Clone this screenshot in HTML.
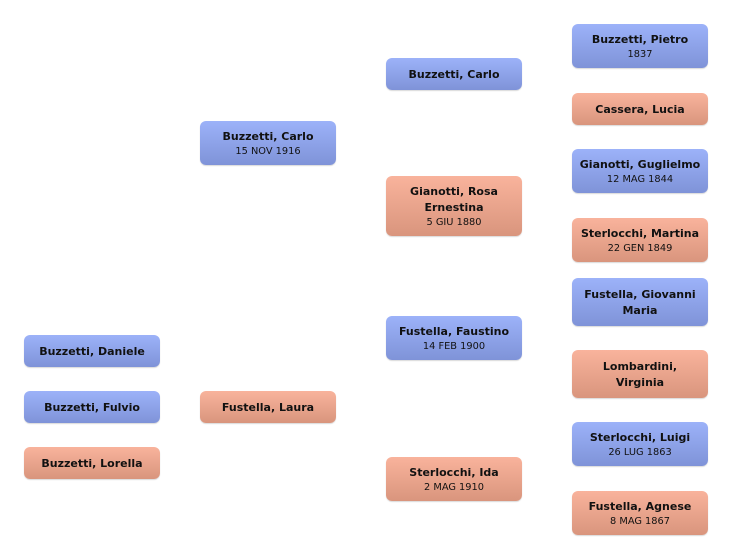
<!DOCTYPE html>
<html><head><meta charset="utf-8"><style>
body{margin:0;width:732px;height:560px;background:#fff;position:relative;overflow:hidden;font-family:"DejaVu Sans","Liberation Sans",sans-serif;}
.b{position:absolute;width:136px;border-radius:6px;display:flex;flex-direction:column;justify-content:center;align-items:center;text-align:center;color:#111;box-shadow:0 1px 1px rgba(0,0,0,.15);padding-top:1px;box-sizing:border-box;}
.m{background:linear-gradient(#9cb2f9,#7f93d8);}
.f{background:linear-gradient(#f9b39c,#d9957d);}
.n{font-weight:bold;font-size:11px;line-height:16px;}
.d{font-size:9.8px;line-height:13px;}
</style></head><body>
<div class="b m" style="left:24px;top:335px;height:32px"><div class="n">Buzzetti, Daniele</div></div>
<div class="b m" style="left:24px;top:391px;height:32px"><div class="n">Buzzetti, Fulvio</div></div>
<div class="b f" style="left:24px;top:447px;height:32px"><div class="n">Buzzetti, Lorella</div></div>

<div class="b m" style="left:200px;top:121px;height:44px"><div class="n">Buzzetti, Carlo</div><div class="d">15 NOV 1916</div></div>
<div class="b f" style="left:200px;top:391px;height:32px"><div class="n">Fustella, Laura</div></div>

<div class="b m" style="left:386px;top:58px;height:32px"><div class="n">Buzzetti, Carlo</div></div>
<div class="b f" style="left:386px;top:176px;height:60px"><div class="n">Gianotti, Rosa<br>Ernestina</div><div class="d">5 GIU 1880</div></div>
<div class="b m" style="left:386px;top:316px;height:44px"><div class="n">Fustella, Faustino</div><div class="d">14 FEB 1900</div></div>
<div class="b f" style="left:386px;top:457px;height:44px"><div class="n">Sterlocchi, Ida</div><div class="d">2 MAG 1910</div></div>

<div class="b m" style="left:572px;top:24px;height:44px"><div class="n">Buzzetti, Pietro</div><div class="d">1837</div></div>
<div class="b f" style="left:572px;top:93px;height:32px"><div class="n">Cassera, Lucia</div></div>
<div class="b m" style="left:572px;top:149px;height:44px"><div class="n">Gianotti, Guglielmo</div><div class="d">12 MAG 1844</div></div>
<div class="b f" style="left:572px;top:218px;height:44px"><div class="n">Sterlocchi, Martina</div><div class="d">22 GEN 1849</div></div>
<div class="b m" style="left:572px;top:278px;height:48px"><div class="n">Fustella, Giovanni<br>Maria</div></div>
<div class="b f" style="left:572px;top:350px;height:48px"><div class="n">Lombardini,<br>Virginia</div></div>
<div class="b m" style="left:572px;top:422px;height:44px"><div class="n">Sterlocchi, Luigi</div><div class="d">26 LUG 1863</div></div>
<div class="b f" style="left:572px;top:491px;height:44px"><div class="n">Fustella, Agnese</div><div class="d">8 MAG 1867</div></div>
</body></html>
